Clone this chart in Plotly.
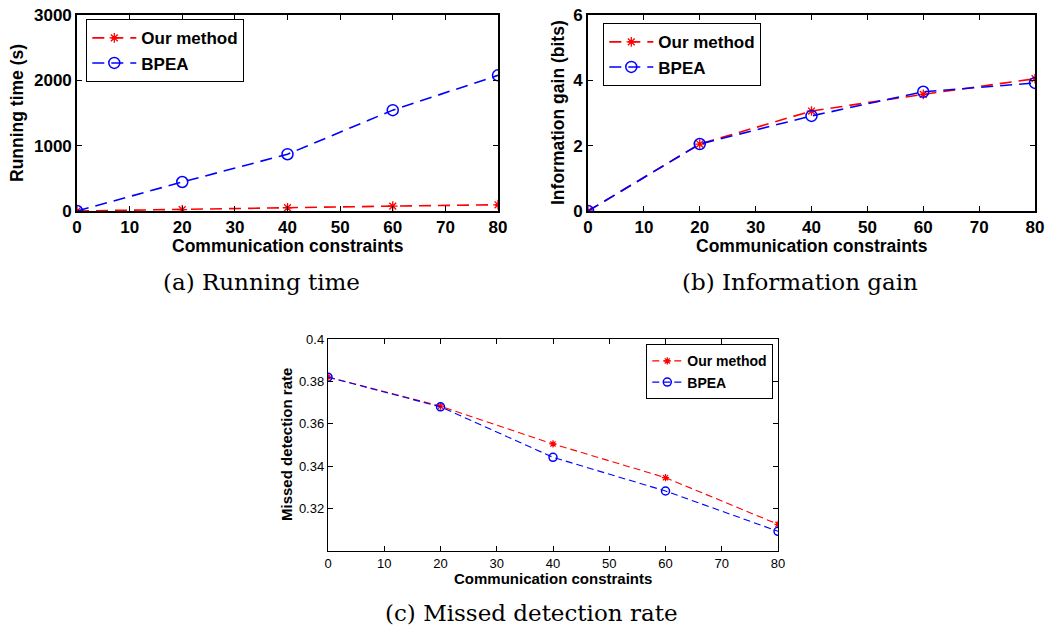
import plotly.graph_objects as go

x_vals = [0, 20, 40, 60, 80]

# (a) Running time (s)
time_ours = [0, 20, 50, 75, 95]
time_bpea = [0, 444, 869, 1544, 2076]

# (b) Information gain (bits)
gain_ours = [0, 2.05, 3.06, 3.57, 4.05]
gain_bpea = [0, 2.05, 2.91, 3.65, 3.92]

# (c) Missed detection rate
miss_ours = [0.3821, 0.3683, 0.3505, 0.3346, 0.3126]
miss_bpea = [0.3820, 0.3680, 0.3442, 0.3283, 0.3093]

x_ticks = [0, 10, 20, 30, 40, 50, 60, 70, 80]
a_yticks = [0, 1000, 2000, 3000]
b_yticks = [0, 2, 4, 6]
c_yticks = [0.32, 0.34, 0.36, 0.38, 0.4]
c_yticklabels = ["0.32", "0.34", "0.36", "0.38", "0.4"]

names = ["<b>Our method</b>", "<b>BPEA</b>"]
captions = ["(a) Running time", "(b) Information gain", "(c) Missed detection rate"]
xtitle = "Communication constraints"
ytitles = ["Running time (s)", "Information gain (bits)", "Missed detection rate"]

W, H = 1064, 632
RED = "#ff0000"
BLUE = "#0000ff"

fig = go.Figure()

def add_pair(xa, ya, legend, ours, bpea, lw, dash, msize_x, msize_o):
    fig.add_trace(go.Scatter(
        x=x_vals, y=ours, name=names[0], mode="lines+markers",
        xaxis=xa, yaxis=ya, legend=legend,
        line=dict(color=RED, width=lw, dash=dash),
        marker=dict(symbol="asterisk-open", size=msize_x, color=RED,
                    line=dict(color=RED, width=1.3)),
    ))
    fig.add_trace(go.Scatter(
        x=x_vals, y=bpea, name=names[1], mode="lines+markers",
        xaxis=xa, yaxis=ya, legend=legend,
        line=dict(color=BLUE, width=lw, dash=dash),
        marker=dict(symbol="circle-open", size=msize_o, color=BLUE,
                    line=dict(color=BLUE, width=1.5)),
    ))

add_pair("x", "y", "legend", time_ours, time_bpea, 1.6, "12px,7px", 8, 11)
add_pair("x2", "y2", "legend2", gain_ours, gain_bpea, 1.6, "12px,7px", 8, 11)
add_pair("x3", "y3", "legend3", miss_ours, miss_bpea, 1.1, "7px,4px", 6, 8)

def px_x(p):
    return p / W

def px_y(p):
    return 1 - p / H

bold_tick = dict(family="Liberation Sans, Arial", size=17, color="black", weight="bold")
norm_tick = dict(family="Liberation Sans, Arial", size=13, color="black")

def axis_common(font, lw):
    return dict(showgrid=False, zeroline=False, showline=True, linecolor="black",
                linewidth=lw, mirror="ticks", ticks="inside", ticklen=5,
                tickcolor="black", tickwidth=1, tickfont=font, automargin=False)

# domains
a_x = [px_x(77), px_x(498)]
b_x = [px_x(588), px_x(1035)]
top_y = [px_y(211), px_y(15)]
c_x = [px_x(328), px_x(778)]
c_y = [px_y(551), px_y(339)]

legend_common = dict(xanchor="left", yanchor="top", bordercolor="black", borderwidth=1.3,
                     bgcolor="white", tracegroupgap=0)

fig.update_layout(
    template="none",
    width=W, height=H,
    margin=dict(l=0, r=0, t=0, b=0, pad=0, autoexpand=False),
    paper_bgcolor="white", plot_bgcolor="white",
    xaxis=dict(domain=a_x, range=[0, 80], tickvals=x_ticks, anchor="y", **axis_common(bold_tick, 1.6)),
    yaxis=dict(domain=top_y, range=[0, 3000], tickvals=a_yticks, anchor="x", **axis_common(bold_tick, 1.6)),
    xaxis2=dict(domain=b_x, range=[0, 80], tickvals=x_ticks, anchor="y2", **axis_common(bold_tick, 1.6)),
    yaxis2=dict(domain=top_y, range=[0, 6], tickvals=b_yticks, anchor="x2", **axis_common(bold_tick, 1.6)),
    xaxis3=dict(domain=c_x, range=[0, 80], tickvals=x_ticks, anchor="y3", **axis_common(norm_tick, 1.4)),
    yaxis3=dict(domain=c_y, range=[0.3, 0.4], tickvals=c_yticks, ticktext=c_yticklabels,
                anchor="x3", **axis_common(norm_tick, 1.4)),
    legend=dict(x=px_x(86), y=px_y(19), itemwidth=44,
                font=dict(family="Liberation Sans, Arial", size=17, color="black"),
                **legend_common),
    legend2=dict(x=px_x(603), y=px_y(23), itemwidth=44,
                 font=dict(family="Liberation Sans, Arial", size=17, color="black"),
                 **legend_common),
    legend3=dict(x=px_x(646), y=px_y(344), itemwidth=30,
                 font=dict(family="Liberation Sans, Arial", size=14, color="black"),
                 **legend_common),
)

ann = []
title_bold17 = dict(family="Liberation Sans, Arial", size=17.5, color="black", weight="bold")
title_bold15 = dict(family="Liberation Sans, Arial", size=15, color="black", weight="bold")
serif = dict(family="DejaVu Serif", size=23, color="black")

# x-axis titles
ann.append(dict(text=xtitle, x=px_x(287.5), y=px_y(246), font=title_bold17))
ann.append(dict(text=xtitle, x=px_x(811.5), y=px_y(246), font=title_bold17))
ann.append(dict(text=xtitle, x=px_x(553), y=px_y(578.5), font=title_bold15))
# y-axis titles
ann.append(dict(text=ytitles[0], x=px_x(17), y=px_y(113), textangle=-90, font=title_bold17))
ann.append(dict(text=ytitles[1], x=px_x(558), y=px_y(113), textangle=-90, font=title_bold17))
ann.append(dict(text=ytitles[2], x=px_x(286), y=px_y(445), textangle=-90, font=title_bold15))
# captions
ann.append(dict(text=captions[0], x=px_x(261), y=px_y(282), font=serif))
ann.append(dict(text=captions[1], x=px_x(800), y=px_y(282), font=serif))
ann.append(dict(text=captions[2], x=px_x(531), y=px_y(613), font=serif))

for a in ann:
    a.update(xref="paper", yref="paper", showarrow=False, xanchor="center", yanchor="middle")
fig.update_layout(annotations=ann)

fig.write_html("out.html")
